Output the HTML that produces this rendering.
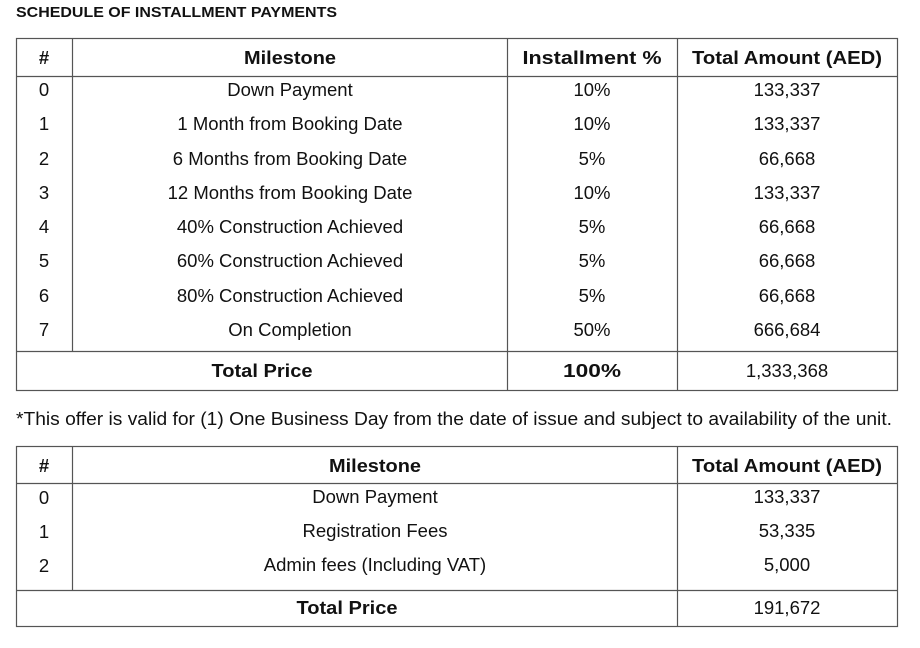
<!DOCTYPE html>
<html><head><meta charset="utf-8"><style>
html,body{margin:0;padding:0;background:#fff;}
svg{display:block;}
text{font-family:"Liberation Sans",sans-serif;fill:#111;}
.b{font-weight:bold;}
</style></head><body>
<svg width="920" height="648" viewBox="0 0 920 648" xmlns="http://www.w3.org/2000/svg">
<text x="16" y="17" font-size="15" class="b" textLength="321" lengthAdjust="spacingAndGlyphs">SCHEDULE OF INSTALLMENT PAYMENTS</text>
<g stroke="#555" stroke-width="1.2" fill="none">
<rect x="16.5" y="38.5" width="881" height="352"/>
<line x1="16" y1="76.5" x2="898" y2="76.5"/>
<line x1="16" y1="351.5" x2="898" y2="351.5"/>
<line x1="72.5" y1="38" x2="72.5" y2="351"/>
<line x1="507.5" y1="38" x2="507.5" y2="391"/>
<line x1="677.5" y1="38" x2="677.5" y2="391"/>
</g>
<g font-size="18.5" text-anchor="middle">
<text x="44" y="64" class="b">#</text>
<text x="290" y="64" class="b" textLength="92" lengthAdjust="spacingAndGlyphs">Milestone</text>
<text x="592" y="64" class="b" textLength="139" lengthAdjust="spacingAndGlyphs">Installment %</text>
<text x="787" y="64" class="b" textLength="190" lengthAdjust="spacingAndGlyphs">Total Amount (AED)</text>
<g>
<text x="44" y="96">0</text><text x="290" y="96">Down Payment</text><text x="592" y="96">10%</text><text x="787" y="96">133,337</text>
<text x="44" y="130">1</text><text x="290" y="130">1 Month from Booking Date</text><text x="592" y="130">10%</text><text x="787" y="130">133,337</text>
<text x="44" y="165">2</text><text x="290" y="165">6 Months from Booking Date</text><text x="592" y="165">5%</text><text x="787" y="165">66,668</text>
<text x="44" y="199">3</text><text x="290" y="199">12 Months from Booking Date</text><text x="592" y="199">10%</text><text x="787" y="199">133,337</text>
<text x="44" y="233">4</text><text x="290" y="233">40% Construction Achieved</text><text x="592" y="233">5%</text><text x="787" y="233">66,668</text>
<text x="44" y="267">5</text><text x="290" y="267">60% Construction Achieved</text><text x="592" y="267">5%</text><text x="787" y="267">66,668</text>
<text x="44" y="302">6</text><text x="290" y="302">80% Construction Achieved</text><text x="592" y="302">5%</text><text x="787" y="302">66,668</text>
<text x="44" y="336">7</text><text x="290" y="336">On Completion</text><text x="592" y="336">50%</text><text x="787" y="336">666,684</text>
</g>
<text x="262" y="377" class="b" textLength="101" lengthAdjust="spacingAndGlyphs">Total Price</text>
<text x="592" y="377" class="b" textLength="58" lengthAdjust="spacingAndGlyphs">100%</text>
<text x="787" y="377">1,333,368</text>
</g>
<text x="16" y="425" font-size="18.5" textLength="876" lengthAdjust="spacingAndGlyphs">*This offer is valid for (1) One Business Day from the date of issue and subject to availability of the unit.</text>
<g stroke="#555" stroke-width="1.2" fill="none">
<rect x="16.5" y="446.5" width="881" height="180"/>
<line x1="16" y1="483.5" x2="898" y2="483.5"/>
<line x1="16" y1="590.5" x2="898" y2="590.5"/>
<line x1="72.5" y1="446" x2="72.5" y2="590"/>
<line x1="677.5" y1="446" x2="677.5" y2="627"/>
</g>
<g font-size="18.5" text-anchor="middle">
<text x="44" y="472" class="b">#</text>
<text x="375" y="472" class="b" textLength="92" lengthAdjust="spacingAndGlyphs">Milestone</text>
<text x="787" y="472" class="b" textLength="190" lengthAdjust="spacingAndGlyphs">Total Amount (AED)</text>
<text x="44" y="504">0</text><text x="375" y="503">Down Payment</text><text x="787" y="503">133,337</text>
<text x="44" y="538">1</text><text x="375" y="537">Registration Fees</text><text x="787" y="537">53,335</text>
<text x="44" y="572">2</text><text x="375" y="571">Admin fees (Including VAT)</text><text x="787" y="571">5,000</text>
<text x="347" y="614" class="b" textLength="101" lengthAdjust="spacingAndGlyphs">Total Price</text>
<text x="787" y="614">191,672</text>
</g>
</svg>
</body></html>
